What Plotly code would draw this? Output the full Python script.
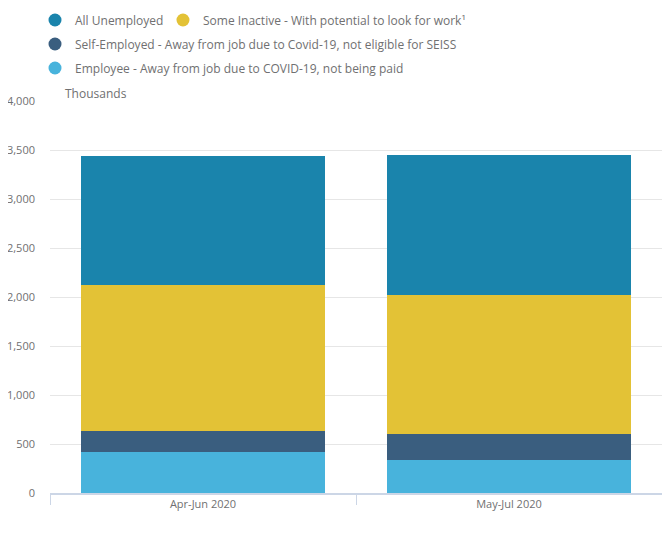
import plotly.graph_objects as go

periods = ["Apr-Jun 2020", "May-Jul 2020"]

employee_unpaid = [414, 340]
self_employed = [222, 265]
some_inactive = [1489, 1418]
all_unemployed = [1314, 1426]

names = [
    "Employee - Away from job due to COVID-19, not being paid",
    "Self-Employed - Away from job due to Covid-19, not eligible for SEISS",
    "Some Inactive - With potential to look for work\u00b9",
    "All Unemployed",
]
colours = ["#48B3DC", "#3A5E7F", "#E3C236", "#1A84AC"]
series = [employee_unpaid, self_employed, some_inactive, all_unemployed]
# which legend box each entry sits in (one box per legend entry)
legend_boxes = ["legend3", "legend2", "legend4", "legend"]

fig = go.Figure()

# stacked bars, bottom to top
for name, col, vals in zip(names, colours, series):
    fig.add_trace(go.Bar(x=periods, y=vals, name=name, marker_color=col,
                         marker_line_width=0, showlegend=False,
                         hovertemplate="%{y:,}<extra>" + name + "</extra>"))

# round legend markers
for name, col, lg in zip(names, colours, legend_boxes):
    fig.add_trace(go.Scatter(x=[None], y=[None], mode="markers", name=name,
                             legend=lg,
                             marker=dict(color=col, size=13, symbol="circle")))

leg = dict(orientation="h", x=-0.0245, xanchor="left",
           yanchor="middle", font=dict(size=12, color="#707071"),
           itemwidth=30, bgcolor="rgba(0,0,0,0)")

# page body has an 8px margin, so the figure is 8px smaller and margins shifted
fig.update_layout(
    width=662, height=531,
    barmode="stack", bargap=0.2,
    plot_bgcolor="white", paper_bgcolor="white",
    margin=dict(l=42, r=8, t=93, b=46, autoexpand=False),
    font=dict(family="Open Sans", size=12, color="#707071"),
    legend=dict(leg, y=1.2066),
    legend4=dict(leg, y=1.2066, x=0.1846),
    legend2=dict(leg, y=1.1454),
    legend3=dict(leg, y=1.0842),
    annotations=[dict(text="Thousands", xref="paper", yref="paper",
                      x=0.021, y=1.02, xanchor="left", yanchor="middle",
                      showarrow=False, font=dict(size=12, color="#707071"))],
)
fig.update_xaxes(showline=True, linecolor="#CCD6E6", linewidth=1.5,
                 ticks="outside", tickson="boundaries", ticklen=10,
                 tickcolor="#CCD6E6", tickfont=dict(size=11))
fig.update_yaxes(range=[0, 4000], dtick=500, tickformat=",",
                 gridcolor="#E6E6E6", zeroline=False,
                 ticklabelstandoff=14, tickfont=dict(size=11))

fig.write_html("out.html")
